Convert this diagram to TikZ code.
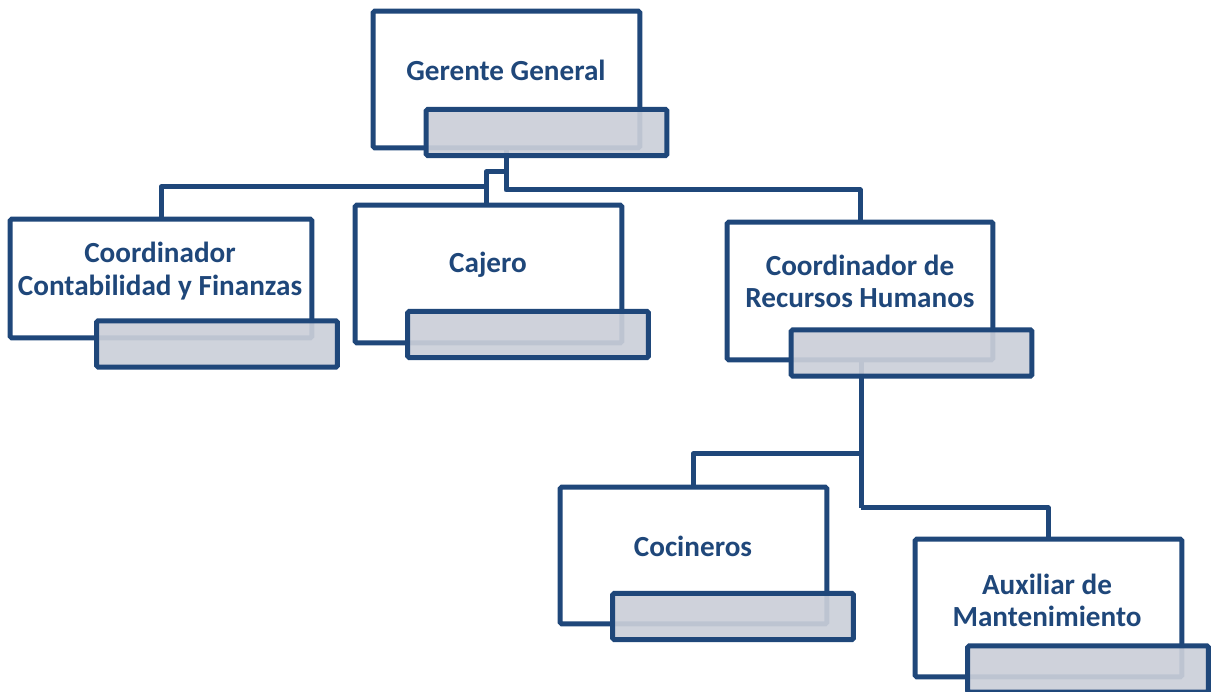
\documentclass[tikz,border=0pt]{standalone}
\usepackage{fontspec}
\setmainfont{Carlito}
\definecolor{navy}{RGB}{31,71,122}
\definecolor{shade}{RGB}{203,207,217}
\begin{document}
\begin{tikzpicture}[x=0.02cm,y=-0.02cm,
  box/.style={draw=navy,line width=0.1cm,rounded corners=1pt,fill=white,inner sep=0pt},
  tab/.style={draw=navy,line width=0.1cm,rounded corners=1pt,fill=shade,fill opacity=0.92,inner sep=0pt,minimum width=4.82cm,minimum height=0.93cm},
  lbl/.style={text=navy,font=\fontsize{16.6}{18.3}\selectfont\bfseries,align=center,inner sep=0pt},
  link/.style={draw=navy,line width=0.1cm,line join=round}]
\useasboundingbox (0,0) rectangle (1211,692);
% main boxes
\node[box,minimum width=5.34cm,minimum height=2.74cm] (gg) at (506.5,79.5) {};
\node[box,minimum width=6.04cm,minimum height=2.38cm] (cf) at (161,278.5) {};
\node[box,minimum width=5.34cm,minimum height=2.76cm] (ca) at (488.5,274) {};
\node[box,minimum width=5.32cm,minimum height=2.76cm] (rh) at (860,291) {};
\node[box,minimum width=5.34cm,minimum height=2.74cm] (co) at (693.5,555.5) {};
\node[box,minimum width=5.34cm,minimum height=2.76cm] (ax) at (1048.5,608) {};
% labels
\node[lbl] (ggt) at (506,70) {Gerente General};
\node[lbl] (cft) at (160,271) {Coordinador\\Contabilidad y Finanzas};
\node[lbl] (cat) at (488,265) {Cajero};
\node[lbl] (rht) at (860,281.5) {Coordinador de\\Recursos Humanos};
\node[lbl] (cot) at (693,546) {Cocineros};
\node[lbl] (axt) at (1047,600) {Auxiliar de\\Mantenimiento};
% connector junctions
\coordinate (j1) at (506,172);
\coordinate (j2) at (486,172);
\coordinate (j3) at (486,187);
\coordinate (j4) at (506,190);
\coordinate (k1) at (861,454);
\coordinate (k2) at (861,508);
% connectors
\draw[link] (gg.south -| j1) -- (j1) -- (j2) -- (ca.north -| j2);
\draw[link] (j3) -| (cf.north);
\draw[link] (j1) -- (j4) -| (rh.north);
\draw[link] (rh.south -| k1) -- (k2);
\draw[link] (k1) -| (co.north -| 693,0);
\draw[link] (k2) -| (ax.north -| 1048,0);
% shaded tabs
\node[tab] (ggs) at (546.5,132.5) {};
\node[tab] (cfs) at (217,344) {};
\node[tab] (cas) at (528,334.5) {};
\node[tab] (rhs) at (911.5,353) {};
\node[tab] (cos) at (733,616.5) {};
\node[tab] (axs) at (1088,669) {};
\end{tikzpicture}
\end{document}
